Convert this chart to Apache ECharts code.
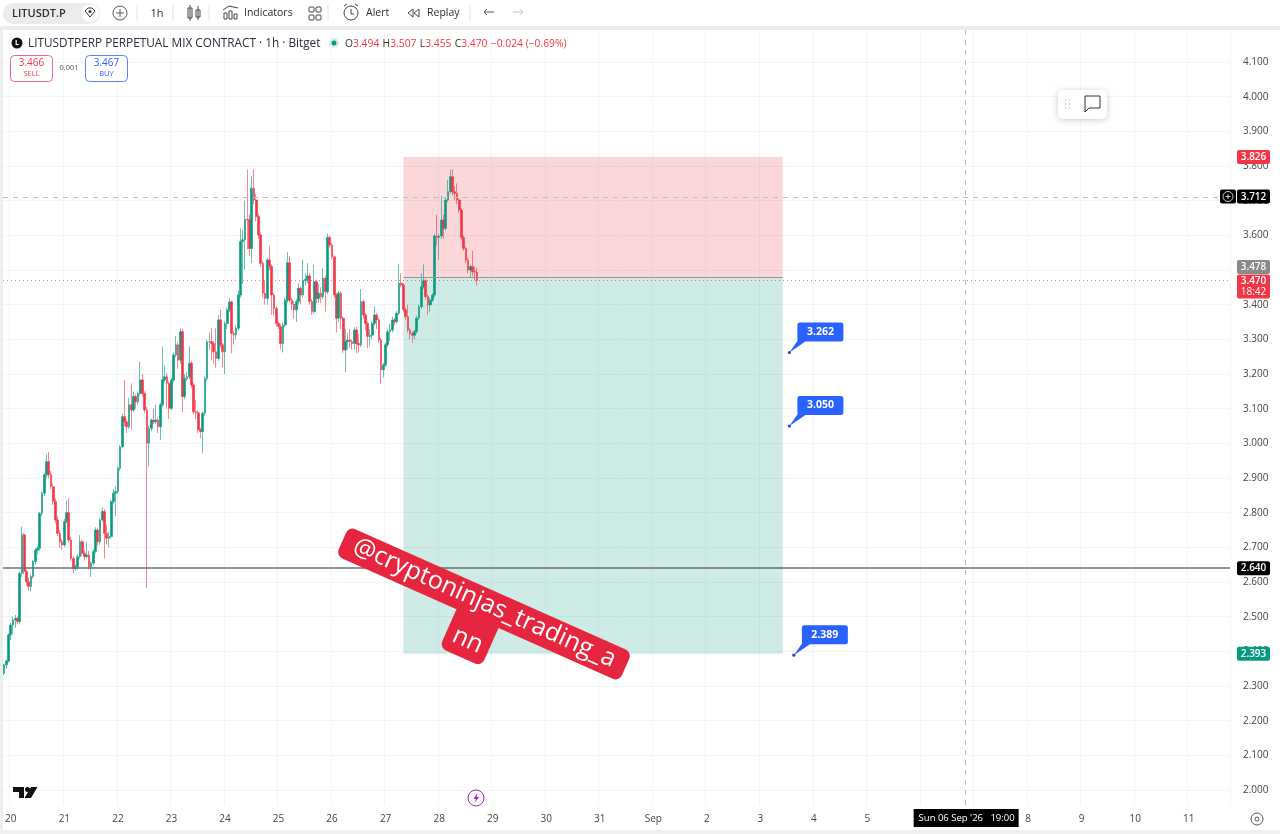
<!DOCTYPE html>
<html><head><meta charset="utf-8">
<style>html,body{margin:0;padding:0;background:#fff;overflow:hidden}#c{width:1280px;height:834px}</style>
<script src="https://cdn.jsdelivr.net/npm/echarts@6/dist/echarts.min.js"></script>
</head><body><div id="c"></div>
<script>
const dayLabels = ['20','21','22','23','24','25','26','27','28','29','30','31','Sep','2','3','4','5','6','7','8','9','10','11'];
const priceTicks = [2.0,2.1,2.2,2.3,2.4,2.5,2.6,2.7,2.8,2.9,3.0,3.1,3.2,3.3,3.4,3.5,3.6,3.7,3.8,3.9,4.0,4.1];
const opens = [
2.337,2.361,2.372,2.447,2.476,2.490,2.495,2.486,2.625,2.736,
2.630,2.601,2.587,2.616,2.659,2.692,2.697,2.798,2.856,2.909,
2.947,2.909,2.875,2.832,2.779,2.740,2.716,2.707,2.774,2.800,
2.721,2.668,2.639,2.644,2.673,2.716,2.683,2.673,2.678,2.644,
2.654,2.688,2.750,2.716,2.779,2.803,2.740,2.726,2.731,2.832,
2.856,2.861,2.928,2.990,3.077,3.062,3.048,3.111,3.096,3.135,
3.120,3.144,3.183,3.144,3.096,3.000,3.043,3.067,3.062,3.067,
3.048,3.111,3.183,3.192,3.173,3.101,3.183,3.255,3.284,3.240,
3.322,3.135,3.187,3.192,3.231,3.168,3.091,3.088,3.039,3.034,
3.087,3.187,3.293,3.293,3.288,3.264,3.245,3.356,3.284,3.264,
3.346,3.385,3.408,3.317,3.313,3.332,3.428,3.582,3.587,3.646,
3.644,3.562,3.736,3.702,3.654,3.601,3.519,3.433,3.418,3.529,
3.510,3.428,3.389,3.346,3.337,3.288,3.341,3.413,3.521,3.413,
3.401,3.385,3.409,3.447,3.428,3.469,3.473,3.483,3.409,3.380,
3.466,3.418,3.433,3.423,3.476,3.437,3.594,3.572,3.538,3.428,
3.361,3.433,3.361,3.269,3.293,3.298,3.293,3.288,3.327,3.288,
3.284,3.409,3.370,3.346,3.308,3.312,3.346,3.370,3.356,3.298,
3.212,3.226,3.284,3.322,3.327,3.356,3.351,3.375,3.462,3.457,
3.385,3.365,3.327,3.317,3.312,3.322,3.361,3.394,3.452,3.469,
3.423,3.399,3.413,3.428,3.598,3.594,3.598,3.644,3.620,3.702,
3.726,3.769,3.726,3.721,3.702,3.673,3.594,3.562,3.529,3.500,
3.510,3.495,3.494];
const closes = [
2.361,2.372,2.447,2.476,2.490,2.495,2.486,2.625,2.736,2.630,
2.601,2.587,2.616,2.659,2.692,2.697,2.798,2.856,2.909,2.947,
2.909,2.875,2.832,2.779,2.740,2.716,2.707,2.774,2.800,2.721,
2.668,2.639,2.644,2.673,2.716,2.683,2.673,2.678,2.644,2.654,
2.688,2.750,2.716,2.779,2.803,2.740,2.726,2.731,2.832,2.856,
2.861,2.928,2.990,3.077,3.062,3.048,3.111,3.096,3.135,3.120,
3.144,3.183,3.144,3.096,3.000,3.043,3.067,3.062,3.067,3.048,
3.111,3.183,3.192,3.173,3.101,3.183,3.255,3.284,3.240,3.322,
3.135,3.187,3.192,3.231,3.168,3.091,3.088,3.039,3.034,3.087,
3.187,3.293,3.293,3.288,3.264,3.245,3.356,3.284,3.264,3.346,
3.385,3.408,3.317,3.313,3.332,3.428,3.582,3.587,3.646,3.644,
3.562,3.736,3.702,3.654,3.601,3.519,3.433,3.418,3.529,3.510,
3.428,3.389,3.346,3.337,3.288,3.341,3.413,3.521,3.413,3.401,
3.385,3.409,3.447,3.428,3.469,3.473,3.483,3.409,3.380,3.466,
3.418,3.433,3.423,3.476,3.437,3.594,3.572,3.538,3.428,3.361,
3.433,3.361,3.269,3.293,3.298,3.293,3.288,3.327,3.288,3.284,
3.409,3.370,3.346,3.308,3.312,3.346,3.370,3.356,3.298,3.212,
3.226,3.284,3.322,3.327,3.356,3.351,3.375,3.462,3.457,3.385,
3.365,3.327,3.317,3.312,3.322,3.361,3.394,3.452,3.469,3.423,
3.399,3.413,3.428,3.598,3.594,3.598,3.644,3.620,3.702,3.726,
3.769,3.726,3.721,3.702,3.673,3.594,3.562,3.529,3.500,3.510,
3.495,3.494,3.470];
const highs = [
2.365,2.376,2.452,2.482,2.500,2.505,2.500,2.630,2.760,2.742,
2.636,2.612,2.622,2.664,2.698,2.704,2.802,2.862,2.914,2.968,
2.975,2.920,2.884,2.842,2.790,2.750,2.724,2.782,2.834,2.842,
2.730,2.675,2.650,2.680,2.735,2.722,2.692,2.715,2.690,2.660,
2.695,2.758,2.756,2.785,2.815,2.810,2.765,2.745,2.838,2.868,
2.876,2.934,2.995,3.085,3.183,3.070,3.130,3.173,3.150,3.142,
3.150,3.235,3.200,3.150,3.105,3.050,3.072,3.100,3.112,3.074,
3.118,3.279,3.225,3.200,3.180,3.190,3.262,3.310,3.292,3.332,
3.330,3.200,3.205,3.280,3.238,3.175,3.125,3.095,3.045,3.092,
3.194,3.300,3.320,3.332,3.295,3.332,3.370,3.385,3.290,3.352,
3.392,3.420,3.412,3.325,3.340,3.440,3.620,3.615,3.700,3.790,
3.660,3.770,3.790,3.720,3.662,3.608,3.526,3.470,3.534,3.570,
3.516,3.434,3.396,3.352,3.345,3.348,3.420,3.552,3.540,3.420,
3.410,3.416,3.462,3.452,3.530,3.490,3.520,3.490,3.416,3.515,
3.472,3.460,3.450,3.505,3.484,3.605,3.600,3.578,3.542,3.434,
3.440,3.438,3.366,3.330,3.318,3.330,3.300,3.335,3.335,3.315,
3.445,3.414,3.376,3.352,3.330,3.352,3.395,3.376,3.362,3.304,
3.232,3.290,3.330,3.345,3.365,3.362,3.382,3.517,3.490,3.462,
3.392,3.400,3.332,3.324,3.328,3.368,3.400,3.490,3.516,3.475,
3.430,3.420,3.434,3.604,3.660,3.604,3.713,3.660,3.708,3.760,
3.790,3.790,3.742,3.750,3.708,3.678,3.600,3.568,3.536,3.516,
3.555,3.510,3.507];
const lows = [
2.330,2.350,2.368,2.432,2.450,2.468,2.478,2.478,2.615,2.622,
2.590,2.575,2.572,2.610,2.650,2.680,2.690,2.790,2.848,2.900,
2.900,2.868,2.822,2.770,2.732,2.698,2.692,2.700,2.770,2.714,
2.660,2.626,2.632,2.636,2.668,2.676,2.662,2.668,2.636,2.615,
2.648,2.682,2.705,2.708,2.774,2.668,2.708,2.700,2.726,2.826,
2.790,2.855,2.920,2.985,3.050,3.030,3.042,3.040,3.090,3.100,
3.112,3.138,3.135,3.088,2.583,2.933,3.035,3.055,3.055,3.030,
3.010,3.105,3.176,3.100,3.070,3.095,3.176,3.248,3.215,3.230,
3.090,3.128,3.180,3.186,3.160,3.084,3.070,3.030,3.015,2.971,
3.080,3.180,3.270,3.240,3.230,3.218,3.238,3.276,3.220,3.200,
3.330,3.378,3.260,3.285,3.300,3.325,3.420,3.460,3.500,3.560,
3.540,3.520,3.690,3.640,3.590,3.510,3.420,3.400,3.400,3.500,
3.370,3.370,3.338,3.330,3.270,3.262,3.335,3.405,3.405,3.385,
3.360,3.350,3.400,3.402,3.420,3.455,3.462,3.400,3.370,3.374,
3.404,3.405,3.405,3.416,3.380,3.430,3.565,3.530,3.420,3.320,
3.350,3.330,3.260,3.205,3.270,3.275,3.270,3.270,3.260,3.262,
3.278,3.360,3.325,3.275,3.280,3.300,3.340,3.330,3.290,3.172,
3.190,3.220,3.278,3.295,3.320,3.340,3.345,3.370,3.450,3.378,
3.355,3.320,3.300,3.290,3.300,3.316,3.355,3.388,3.446,3.415,
3.370,3.380,3.408,3.422,3.570,3.530,3.590,3.590,3.614,3.696,
3.720,3.715,3.700,3.690,3.665,3.585,3.555,3.520,3.490,3.478,
3.482,3.470,3.455];
const stopPrice = 3.826, entryPrice = 3.478, targetPrice = 2.393;
const positionStartHour = 179, positionEndHour = 349;
const crossPrice = 3.712, crossHour = 431, crossLabel = "Sun 06 Sep '26   19:00";
const lastPrice = 3.470, supportPrice = 2.640;
const tagPrices = [3.826, 3.712, 3.478, 2.640, 2.393];
const tagTexts  = ['3.826','3.712','3.478','2.640','2.393'];
const calloutHours  = [352, 352, 354];
const calloutPrices = [3.262, 3.050, 2.389];
const calloutTexts  = ['3.262','3.050','2.389'];

const UP = '#089981', DOWN = '#f23645', UI = 'Open Sans', INK = '#2a2e39';
const tagColors = ['#f23645','#000000','#8a8a8a','#000000','#089981'];
const tagShift  = [0,0,-10.5,0,0];
const categories = [];
for (let i = 0; i < 550; i++) categories.push('');
dayLabels.forEach((d, k) => { categories[3 + k * 24] = d; });

const chart = echarts.init(document.getElementById('c'), null, {renderer:'canvas', width:1280, height:834});
const T = (x,y,text,size,fill,extra) => ({type:'text', z:50, style:Object.assign({x,y,text,fontFamily:UI,fontSize:size,fill,verticalAlign:'middle'},extra||{})});
const R = (x,y,w,h,fill,r,stroke) => ({type:'rect', z:49, shape:{x,y,width:w,height:h,r:r||0}, style:{fill:fill,stroke:stroke||null,lineWidth:1}});
const L = (x1,y1,x2,y2,col) => ({type:'line', z:50, shape:{x1,y1,x2,y2}, style:{stroke:col||'#555',lineWidth:1,fill:null}});
const C = (cx,cy,r,fill,stroke) => ({type:'circle', z:50, shape:{cx,cy,r}, style:{fill:fill||null,stroke:stroke||null,lineWidth:1}});
const P = (points,fill,stroke) => ({type:'polygon', z:50, shape:{points}, style:{fill:fill||null,stroke:stroke||null,lineWidth:1}});

const graphics = [
  R(0,0,1280,27,'#ffffff'), R(0,26,1280,4,'#eceded'), R(0,26,3,808,'#eceded'), R(0,830,1280,4,'#f0f0f0'),
  R(3,3,97,21,'#ebebeb',10),
  T(12,13.5,'LITUSDT.P',11,INK,{fontWeight:600}),
  C(90,13,9,'#fff'), P([[85,11],[88,8],[92,8],[95,11],[90,17]],null,'#333'), C(90,11.5,1.5,'#333'),
  C(120,13,7,null,'#555'), L(116,13,124,13), L(120,9,120,17),
  L(137,5,137,21,'#e3e3e3'), T(157,13.5,'1h',11,INK,{align:'center'}), L(173,5,173,21,'#e3e3e3'),
  R(188,8,4,10,null,0,'#444'), L(190,5,190,21,'#444'), R(196,10,4,7,null,0,'#444'), L(198,6,198,20,'#444'),
  L(209,5,209,21,'#e3e3e3'),
  R(224,13,3,6,null,0,'#444'), R(229,11,3,8,null,0,'#444'), R(234,14,3,5,null,0,'#444'), L(223,10,229,6,'#444'), L(229,6,238,8,'#444'),
  T(244,13.5,'Indicators',10.5,INK),
  R(309,7,5,5,null,1,'#444'), R(316,7,5,5,null,1,'#444'), R(309,15,5,5,null,1,'#444'), R(316,15,5,5,null,1,'#444'),
  L(328,5,328,21,'#e3e3e3'),
  C(351,13,7,null,'#444'), L(351,9,351,14,'#444'), L(351,14,354,14,'#444'), L(344,6,347,4,'#444'), L(355,4,358,6,'#444'),
  T(366,13.5,'Alert',10.5,INK),
  P([[413,9],[408,13],[413,17]],null,'#444'), P([[419,9],[414,13],[419,17]],null,'#444'),
  T(427,13.5,'Replay',10.5,INK),
  L(470,5,470,21,'#e3e3e3'),
  L(484,12,494,12,'#555'), L(484,12,487,9,'#555'), L(484,12,487,15,'#555'),
  L(513,12,523,12,'#c4c4c4'), L(523,12,520,9,'#c4c4c4'), L(523,12,520,15,'#c4c4c4'),
  C(17,43,5.5,'#111'), T(17,43,'L',7,'#fff',{align:'center',fontWeight:700}),
  T(28,44,'LITUSDTPERP PERPETUAL MIX CONTRACT · 1h · Bitget',11.8,INK),
  C(334,43,5,'#d4ede8'), C(334,43,2.5,'#089981'),
  {type:'text', z:50, style:{x:345,y:44,verticalAlign:'middle',
    text:'{k|O}{v|3.494} {k|H}{v|3.507} {k|L}{v|3.455} {k|C}{v|3.470} {v|−0.024 (−0.69%)}',
    rich:{k:{fontFamily:UI,fontSize:10.3,fill:'#333',color:'#333'},v:{fontFamily:UI,fontSize:10.3,fill:DOWN,color:DOWN}}}},
  R(10.5,55.5,42,26,'#fff',4,'#ee6b77'), T(31.5,63,'3.466',10,DOWN,{align:'center'}), T(31.5,74,'SELL',7.5,DOWN,{align:'center'}),
  T(69,68,'0.001',7.5,'#555',{align:'center'}),
  R(85.5,55.5,42,26,'#fff',4,'#5b83f2'), T(106.5,63,'3.467',10,'#2962ff',{align:'center'}), T(106.5,74,'BUY',7.5,'#2962ff',{align:'center'}),
  {type:'rect', z:49, shape:{x:1058,y:90,width:49,height:29,r:5}, style:{fill:'#fff',shadowBlur:6,shadowColor:'rgba(0,0,0,.22)',shadowOffsetY:1}},
  C(1065.5,100,.8,'#bbb'), C(1065.5,104,.8,'#bbb'), C(1065.5,108,.8,'#bbb'), C(1069.5,100,.8,'#bbb'), C(1069.5,104,.8,'#bbb'), C(1069.5,108,.8,'#bbb'),
  P([[1085,96],[1100,96],[1100,108],[1089,108],[1085,112]],null,'#333'),
  P([[13,787],[24,787],[24,798],[19,798],[19,792],[13,792]],'#111'), C(27.5,789.5,2.5,'#111'), P([[31,787],[37.5,787],[31,798],[24.5,798]],'#111'),
  C(476,798,8,'#fff','#9c27b0'), P([[477.5,793],[473.5,799],[476,799],[474.5,803],[479,797],[476.5,797]],'#9c27b0'),
  C(1257,819,6,null,'#555'), C(1257,819,2,null,'#555'),
  {type:'group', z:60, x:484, y:604, rotation:-24*Math.PI/180, children:[
    {type:'rect', z:60, shape:{x:-155,y:-16,width:310,height:32,r:7}, style:{fill:'#e6263f'}},
    {type:'rect', z:60, shape:{x:-23,y:10,width:46,height:48,r:7}, style:{fill:'#e6263f'}},
    {type:'text', z:61, style:{x:0,y:-1,text:'@cryptoninjas_trading_a',fontFamily:UI,fontSize:25,fill:'#fff',align:'center',verticalAlign:'middle'}},
    {type:'text', z:61, style:{x:0,y:40,text:'nn',fontFamily:UI,fontSize:25,fill:'#fff',align:'center',verticalAlign:'middle'}}
  ]}
];

chart.setOption({
  animation:false,
  backgroundColor:'#ffffff',
  grid:{left:3,right:50,top:30,bottom:29},
  xAxis:{type:'category',data:categories,boundaryGap:true,
    axisLine:{show:false},axisTick:{show:false,alignWithLabel:true,interval:(i,v)=>v!==''},
    axisLabel:{interval:(i,v)=>v!=='',margin:9,fontFamily:UI,fontSize:10,color:'#444',hideOverlap:false},
    splitLine:{show:true,interval:(i,v)=>v!=='',lineStyle:{color:'#f3f4f5',width:1}}},
  yAxis:{type:'value',position:'right',min:1.9567,max:4.1923,
    axisLine:{show:false},axisTick:{show:false,customValues:priceTicks},
    axisLabel:{customValues:priceTicks,formatter:v=>v.toFixed(3),margin:13,padding:[3,0,0,0],fontFamily:UI,fontSize:10,color:'#444'},
    splitLine:{show:true,lineStyle:{color:'#f3f4f5',width:1}}},
  series:[
    {name:'zones',type:'line',data:[],z:1,silent:true,
      markArea:{silent:true,data:[
        [{xAxis:positionStartHour,yAxis:stopPrice,itemStyle:{color:'rgba(242,54,69,0.2)'}},{xAxis:positionEndHour,yAxis:entryPrice}],
        [{xAxis:positionStartHour,yAxis:entryPrice,itemStyle:{color:'rgba(8,153,129,0.2)'}},{xAxis:positionEndHour,yAxis:targetPrice}]
      ]},
      markLine:{silent:true,symbol:'none',label:{show:false},data:[
        [{xAxis:positionStartHour,yAxis:entryPrice,lineStyle:{color:'#8f9a98',width:1,type:'solid'}},{xAxis:positionEndHour,yAxis:entryPrice}],
        {yAxis:lastPrice,lineStyle:{color:'#f23645',width:1,type:[1,3],opacity:.7}},
        {yAxis:crossPrice,lineStyle:{color:'#bdbdbd',width:1,type:[5,5]}},
        {xAxis:crossHour,lineStyle:{color:'#bdbdbd',width:1,type:[5,5]}}
      ]}},
    {name:'LITUSDT',type:'candlestick',z:3,barWidth:2.2,silent:true,
      data:closes.map((c,i)=>[opens[i],c,lows[i],highs[i]]),
      itemStyle:{color:UP,color0:DOWN,borderColor:'rgba(8,153,129,0.6)',borderColor0:'rgba(242,54,69,0.6)',borderColorDoji:'rgba(120,120,120,.6)',borderWidth:1}},
    {name:'support',type:'line',data:[],z:4,silent:true,
      markLine:{silent:true,symbol:'none',label:{show:false},data:[{yAxis:supportPrice,lineStyle:{color:'#6a6f6d',width:1.5,type:'solid'}}]}},
    {name:'tags',type:'custom',z:8,silent:true,clip:false,
      data:tagPrices.map((p,i)=>[0,p,i]),
      renderItem:(params,api)=>{
        const i=api.value(2), y=api.coord([0,api.value(1)])[1]+tagShift[i];
        const children=[{type:'rect',shape:{x:1237,y:y-7,width:33,height:14,r:2},style:{fill:tagColors[i]}},
          {type:'text',style:{x:1253.5,y:y+.5,text:tagTexts[i],fill:'#fff',fontFamily:UI,fontSize:10,fontWeight:600,align:'center',verticalAlign:'middle'}}];
        if(i===1){children.push({type:'rect',shape:{x:1220,y:y-7,width:16,height:14,r:2},style:{fill:'#000'}},
          {type:'circle',shape:{cx:1228,cy:y,r:5},style:{fill:null,stroke:'#ccc',lineWidth:1}},
          {type:'line',shape:{x1:1225.5,y1:y,x2:1230.5,y2:y},style:{stroke:'#ccc',lineWidth:1}},
          {type:'line',shape:{x1:1228,y1:y-2.5,x2:1228,y2:y+2.5},style:{stroke:'#ccc',lineWidth:1}});}
        return {type:'group',children};
      }},
    {name:'last',type:'custom',z:9,silent:true,clip:false,
      data:[[0,lastPrice]],
      renderItem:(params,api)=>{
        const y=api.coord([0,api.value(1)])[1];
        return {type:'group',children:[
          {type:'rect',shape:{x:1237,y:y-6,width:33,height:24,r:2},style:{fill:'#f23645'}},
          {type:'text',style:{x:1253.5,y:y+.5,text:'3.470',fill:'#fff',fontFamily:UI,fontSize:10,fontWeight:600,align:'center',verticalAlign:'middle'}},
          {type:'text',style:{x:1253.5,y:y+12,text:'18:42',fill:'#fff',fontFamily:UI,fontSize:10,align:'center',verticalAlign:'middle'}}
        ]};
      }},
    {name:'callouts',type:'custom',z:7,silent:true,clip:false,
      data:calloutPrices.map((p,i)=>[calloutHours[i],p,i]),
      renderItem:(params,api)=>{
        const pt=api.coord([api.value(0),api.value(1)]), x=pt[0], y=pt[1], i=api.value(2);
        return {type:'group',children:[
          {type:'polygon',shape:{points:[[x,y],[x+9,y-13],[x+16,y-11]]},style:{fill:'#2962ff'}},
          {type:'rect',shape:{x:x+8,y:y-30,width:46,height:19,r:2.5},style:{fill:'#2962ff'}},
          {type:'circle',shape:{cx:x,cy:y,r:1.6},style:{fill:'#1c49c0'}},
          {type:'text',style:{x:x+31,y:y-20.5,text:calloutTexts[i],fill:'#fff',fontFamily:UI,fontSize:10.5,fontWeight:700,align:'center',verticalAlign:'middle'}}
        ]};
      }},
    {name:'crossTime',type:'custom',z:9,silent:true,clip:false,
      data:[[crossHour,2]],
      renderItem:(params,api)=>{
        const x=api.coord([api.value(0),2])[0];
        return {type:'group',children:[
          {type:'rect',shape:{x:x-52,y:809,width:105,height:18},style:{fill:'#000'}},
          {type:'text',style:{x:x+1,y:818.5,text:crossLabel,fill:'#fff',fontFamily:UI,fontSize:9.5,align:'center',verticalAlign:'middle'}}
        ]};
      }}
  ],
  graphic:{elements:graphics}
});
</script></body></html>
